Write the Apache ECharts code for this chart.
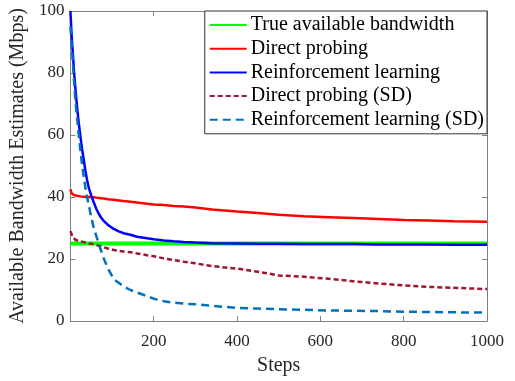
<!DOCTYPE html>
<html lang="en">
<head>
  <meta charset="UTF-8">
  <title>Bandwidth estimates</title>
  <style>
    html, body { margin: 0; padding: 0; background: #fff; }
    #chart { width: 515px; height: 381px; }
  </style>
</head>
<body>
  <div id="chart"></div>
  <script src="https://cdn.jsdelivr.net/npm/echarts@6/dist/echarts.min.js"></script>
  <script>
    // data
    var names = ['True available bandwidth', 'Direct probing', 'Reinforcement learning',
                 'Direct probing (SD)', 'Reinforcement learning (SD)']
    var trueBandwidth = 25
    var steps = [0, 3, 6, 9, 12, 16, 20, 24, 28, 32, 36, 40, 44, 50, 56, 62, 68, 74, 80, 90,
                 104, 116, 128, 144, 160, 184, 200, 224, 248, 272, 300, 340, 400, 450, 500,
                 560, 620, 680, 740, 800, 860, 920, 1000]
    var directProbing = [42.5, 41.2, 40.8, 40.6, 40.5, 40.4, 40.3, 40.2, 40.2, 40.1, 40.1, 40, 40, 40,
                         39.9, 39.8, 39.7, 39.6, 39.5, 39.3, 39.1, 38.9, 38.7, 38.5, 38.2, 37.8, 37.6,
                         37.4, 37.1, 36.9, 36.6, 36.0, 35.3, 34.8, 34.3, 33.8, 33.5, 33.2, 32.9, 32.6,
                         32.4, 32.2, 32.0]
    var reinforcement = [100, 92, 86, 80, 75, 69, 64, 59.5, 55.5, 52, 48.5, 45.5, 43, 40.5, 38.3,
                         36.2, 34.6, 33.3, 32.3, 31, 29.7, 28.9, 28.3, 27.8, 27.2, 26.7, 26.4, 26,
                         25.7, 25.5, 25.3, 25.1, 25, 24.9, 24.9, 24.8, 24.8, 24.8, 24.7, 24.7, 24.7,
                         24.6, 24.6]
    var directProbingSD = [29, 28, 27, 26.5, 26.2, 26, 25.8, 25.7, 25.6, 25.5, 25.3, 25.2, 25.0, 24.9,
                           24.7, 24.5, 24.3, 24.1, 23.8, 23.4, 22.9, 22.6, 22.4, 22.2, 21.8, 21.2, 20.9,
                           20.2, 19.7, 19.1, 18.6, 17.7, 16.9, 15.9, 14.7, 14.3, 13.6, 12.8, 12.1, 11.5,
                           11.0, 10.7, 10.3]
    var reinforcementSD = [95, 89, 83, 77, 71, 65.5, 60, 55, 50.5, 46.5, 43, 40, 37.5, 33.5, 30,
                           27.5, 25, 22.5, 20.2, 17, 13.5, 12.3, 11.1, 10, 9.2, 8.0, 7.2, 6.4, 5.9,
                           5.6, 5.4, 4.9, 4.2, 4.0, 3.8, 3.6, 3.4, 3.3, 3.2, 3.0, 2.9, 2.8, 2.7]
    var xTicks = [0, 1000, 200]
    var yTicks = [0, 100, 20]

    function pairs(vals) {
      return steps.map(function (s, i) { return [s, vals[i]] })
    }

    var font = '"Liberation Serif", "Times New Roman", serif'
    var axisColor = '#808080'
    var textColor = '#262626'

    let chart = echarts.init(document.getElementById('chart'))

    function line(name, data, color, width, dash) {
      return {
        name: name,
        type: 'line',
        data: data,
        symbol: 'none',
        animation: false,
        lineStyle: { color: color, width: width, type: dash || 'solid' },
        itemStyle: { color: color }
      }
    }

    var option = {
      backgroundColor: '#fff',
      grid: { left: 69, right: 28, top: 11, bottom: 56 },
      legend: {
        orient: 'vertical',
        right: 28,
        top: 11,
        backgroundColor: '#fff',
        borderColor: '#333',
        borderWidth: 1,
        borderRadius: 0,
        padding: [4, 3, 4, 4],
        itemWidth: 37,
        itemHeight: 14,
        itemGap: 3.7,
        itemStyle: { opacity: 0 },
        textStyle: { fontFamily: font, fontSize: 20, lineHeight: 20, color: '#000', padding: [0, 0, 0, -1] },
        data: names
      },
      xAxis: [{
        type: 'value',
        min: xTicks[0], max: xTicks[1], interval: xTicks[2],
        name: 'Steps',
        nameLocation: 'middle',
        nameGap: 35,
        nameTextStyle: { fontFamily: font, fontSize: 20, color: textColor },
        axisLine: { lineStyle: { color: axisColor } },
        axisTick: { inside: true, length: 5, lineStyle: { color: axisColor } },
        axisLabel: {
          fontFamily: font, fontSize: 17, color: textColor, margin: 12,
          formatter: function (v) { return v === 0 ? '' : v }
        },
        splitLine: { show: false }
      }, {
        type: 'value', position: 'top',
        min: xTicks[0], max: xTicks[1], interval: xTicks[2],
        axisLine: { show: true, onZero: false, lineStyle: { color: axisColor } },
        axisTick: { inside: true, length: 5, lineStyle: { color: axisColor } },
        axisLabel: { show: false },
        splitLine: { show: false }
      }],
      yAxis: [{
        type: 'value',
        min: yTicks[0], max: yTicks[1], interval: yTicks[2],
        name: 'Available Bandwidth Estimates (Mbps)',
        nameLocation: 'middle',
        nameGap: 33,
        nameTextStyle: { fontFamily: font, fontSize: 20, color: textColor },
        axisLine: { show: true, lineStyle: { color: axisColor } },
        axisTick: { show: true, inside: true, length: 5, lineStyle: { color: axisColor } },
        axisLabel: { fontFamily: font, fontSize: 17, color: textColor, margin: 6 },
        splitLine: { show: false }
      }, {
        type: 'value', position: 'right',
        min: yTicks[0], max: yTicks[1], interval: yTicks[2],
        axisLine: { show: true, onZero: false, lineStyle: { color: axisColor } },
        axisTick: { show: true, inside: true, length: 5, lineStyle: { color: axisColor } },
        axisLabel: { show: false },
        splitLine: { show: false }
      }],
      series: [
        line(names[0], [[xTicks[0], trueBandwidth], [xTicks[1], trueBandwidth]], '#00ff00', 4),
        line(names[1], pairs(directProbing), '#ff0000', 2.5),
        line(names[2], pairs(reinforcement), '#0000ff', 2.5),
        line(names[3], pairs(directProbingSD), '#a2142f', 2.5, [5, 3]),
        line(names[4], pairs(reinforcementSD), '#0072bd', 2.5, [8, 5])
      ]
    }
    chart.setOption(option)
  </script>
</body>
</html>
